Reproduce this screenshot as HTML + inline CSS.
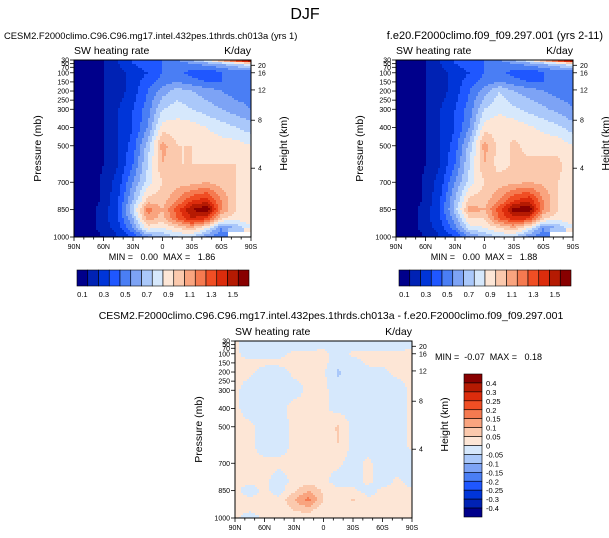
<!DOCTYPE html>
<html><head><meta charset="utf-8"><style>
html,body{margin:0;padding:0;background:#fff;}
svg{display:block;font-family:"Liberation Sans",sans-serif;}
</style></head><body>
<svg id="root" width="609" height="538" viewBox="0 0 609 538">
<rect width="609" height="538" fill="#fff"/>
<text x="305" y="19" font-size="16" text-anchor="middle">DJF</text>
<text x="4" y="39" font-size="9.4">CESM2.F2000climo.C96.C96.mg17.intel.432pes.1thrds.ch013a (yrs 1)</text>
<text x="603" y="39" font-size="11" text-anchor="end">f.e20.F2000climo.f09_f09.297.001 (yrs 2-11)</text>
<text x="331" y="319" font-size="10.5" text-anchor="middle">CESM2.F2000climo.C96.C96.mg17.intel.432pes.1thrds.ch013a - f.e20.F2000climo.f09_f09.297.001</text>
<g id="g1"></g><g id="g2"></g><g id="g3"></g>
</svg>
<script>
const lats=["90N","75N","60N","45N","30N","15N","0","15S","30S","45S","60S","75S","90S"];
const pres=[30,50,100,150,200,300,400,500,600,700,800,850,900,950,1000];
const ctlVals=[
[0.05,0.05,0.1,0.2,0.3,0.35,0.4,0.5,0.6,0.8,1.1,1.4,1.7],
[0.05,0.05,0.1,0.2,0.3,0.35,0.4,0.45,0.5,0.55,0.6,0.7,0.8],
[0.05,0.05,0.1,0.15,0.25,0.3,0.4,0.45,0.35,0.3,0.4,0.4,0.4],
[0.05,0.05,0.1,0.15,0.25,0.35,0.45,0.5,0.45,0.4,0.4,0.4,0.4],
[0.05,0.05,0.1,0.15,0.25,0.4,0.55,0.65,0.6,0.55,0.5,0.45,0.45],
[0.05,0.05,0.1,0.2,0.3,0.45,0.7,0.75,0.7,0.65,0.6,0.55,0.5],
[0.05,0.05,0.1,0.2,0.3,0.5,0.85,0.85,0.85,0.8,0.75,0.7,0.65],
[0.05,0.05,0.1,0.2,0.35,0.65,1.05,0.9,0.9,0.85,0.85,0.85,0.8],
[0.05,0.05,0.1,0.2,0.4,0.7,1.0,0.9,0.9,0.9,0.9,0.9,0.85],
[0.05,0.05,0.12,0.25,0.5,0.75,0.9,0.95,0.95,1.0,0.95,0.9,0.85],
[0.05,0.05,0.12,0.3,0.6,0.95,0.95,1.1,1.3,1.35,1.1,0.9,0.85],
[0.05,0.05,0.15,0.3,0.7,1.15,1.0,1.25,1.5,1.6,1.1,0.9,0.85],
[0.05,0.05,0.15,0.3,0.6,1.05,0.95,1.2,1.4,1.3,0.9,0.85,0.85],
[0.05,0.05,0.15,0.25,0.5,0.85,0.8,0.9,1.0,0.8,0.5,0.6,0.8],
[0.05,0.05,0.1,0.2,0.3,0.5,0.6,0.7,0.7,0.5,0.4,null,null]];
const obsVals=[
[0.05,0.05,0.1,0.2,0.3,0.35,0.4,0.5,0.6,0.8,1.1,1.4,1.7],
[0.05,0.05,0.1,0.2,0.3,0.35,0.4,0.45,0.5,0.55,0.6,0.7,0.8],
[0.05,0.05,0.1,0.15,0.25,0.3,0.4,0.45,0.35,0.3,0.4,0.4,0.4],
[0.05,0.05,0.1,0.15,0.25,0.35,0.45,0.5,0.45,0.4,0.4,0.4,0.4],
[0.05,0.05,0.1,0.15,0.25,0.4,0.55,0.7,0.6,0.55,0.5,0.45,0.45],
[0.05,0.05,0.1,0.2,0.3,0.45,0.7,0.78,0.72,0.67,0.62,0.57,0.5],
[0.05,0.05,0.1,0.2,0.3,0.5,0.85,0.87,0.87,0.82,0.77,0.72,0.65],
[0.05,0.05,0.1,0.2,0.35,0.65,1.05,0.85,0.92,0.87,0.87,0.87,0.8],
[0.05,0.05,0.1,0.2,0.4,0.7,1.0,0.85,0.92,0.92,0.92,0.92,0.85],
[0.05,0.05,0.12,0.25,0.5,0.75,0.9,0.95,0.97,1.0,0.97,0.9,0.85],
[0.05,0.05,0.12,0.3,0.6,0.95,0.95,1.1,1.3,1.38,1.1,0.9,0.85],
[0.05,0.05,0.15,0.3,0.65,1.05,1.0,1.25,1.55,1.6,1.1,0.9,0.85],
[0.05,0.05,0.15,0.3,0.55,0.9,0.9,1.2,1.35,1.3,0.9,0.85,0.85],
[0.05,0.05,0.15,0.25,0.45,0.75,0.8,0.9,1.0,0.8,0.5,0.6,0.8],
[0.05,0.05,0.1,0.2,0.3,0.5,0.6,0.7,0.7,0.5,0.4,null,null]];
const diffVals=[
[0.01,-0.02,-0.02,-0.02,-0.02,-0.02,-0.02,-0.02,-0.02,-0.02,-0.02,-0.02,-0.01],
[0.01,-0.02,-0.02,-0.02,-0.02,-0.02,-0.01,-0.02,-0.02,-0.02,-0.02,-0.02,-0.01],
[0.01,-0.02,-0.02,-0.01,0.01,0.01,0.01,-0.02,0.01,0.01,0.01,0.01,0.01],
[0.01,0.01,0.01,0.01,0.01,0.01,0.01,-0.02,-0.02,0.01,0.01,0.01,0.01],
[0.01,0.01,-0.02,-0.02,0.01,0.01,0.01,-0.06,-0.02,-0.02,-0.01,0.01,0.01],
[0.01,-0.02,-0.02,-0.02,-0.02,0.01,0.01,-0.02,-0.02,-0.02,-0.02,-0.02,0.01],
[0.01,-0.02,-0.02,-0.02,0.02,0.01,0.01,-0.02,-0.02,-0.02,-0.02,-0.02,0.01],
[0.01,0.01,-0.02,-0.02,0.01,0.01,0.01,0.06,-0.02,-0.02,-0.02,-0.02,0.01],
[0.01,0.01,-0.02,-0.02,0.01,0.01,0.01,0.05,-0.02,-0.02,-0.02,-0.02,0.01],
[0.01,0.01,0.01,0.01,0.01,0.01,0.01,0.01,-0.02,0.01,-0.02,-0.02,-0.02],
[0.01,0.01,0.01,-0.02,0.01,0.03,0.01,-0.02,-0.02,0.01,-0.02,0.01,-0.02],
[0.01,-0.02,0.01,-0.02,0.04,0.1,0.04,0.01,0.01,-0.02,0.01,0.01,0.01],
[0.01,0.01,0.01,0.01,0.1,0.17,0.05,0.01,0.06,0.01,0.01,0.01,0.01],
[0.01,0.01,0.01,0.01,0.06,0.08,0.01,0.01,0.01,0.01,0.01,0.01,0.01],
[0.01,-0.02,0.01,0.01,0.01,0.01,0.01,0.01,0.01,0.01,0.01,0.01,0.01]];
const absLevels=[0.1,0.2,0.3,0.4,0.5,0.6,0.7,0.8,0.9,1.0,1.1,1.2,1.3,1.4,1.5];
const diffLevels=[-0.4,-0.3,-0.25,-0.2,-0.15,-0.1,-0.05,0,0.05,0.1,0.15,0.2,0.25,0.3,0.4];
const absBarLabels=["0.1","0.3","0.5","0.7","0.9","1.1","1.3","1.5"];
const diffBarLabels=["0.4","0.3","0.25","0.2","0.15","0.1","0.05","0","-0.05","-0.1","-0.15","-0.2","-0.25","-0.3","-0.4"];
const pTicks=[30,50,70,100,150,200,250,300,400,500,700,850,1000];
const kmTicks=[4,8,12,16,20];
const kmPres=[623,360,194,100,59];
const minmax=[["0.00","1.86"],["0.00","1.88"],["-0.07","0.18"]];
const palette=["#00008b","#0022b4","#0035d8","#1f57ff","#4a7ef4","#7da3f5","#aac8fa","#d6e8fc","#fde6d6","#fbc9ad","#f9a47f","#f57a50","#f04e24","#dc2c0c","#b51a02","#880000"];
const NS="http://www.w3.org/2000/svg";
function mk(tag,attrs,parent){const e=document.createElementNS(NS,tag);for(const k in attrs)e.setAttribute(k,attrs[k]);parent.appendChild(e);return e;}
function colorFor(v,levels){if(v===null)return "#ffffff";let i=0;while(i<levels.length&&v>=levels[i])i++;return palette[i];}
function sample(grid,fx,p){
  let r=0;while(r<pres.length-2&&p>pres[r+1])r++;
  const ty=Math.max(0,Math.min(1,(p-pres[r])/(pres[r+1]-pres[r])));
  let c=Math.min(Math.floor(fx),lats.length-2);const tx=fx-c;
  const a=grid[r][c],b=grid[r][c+1],d=grid[r+1][c],e=grid[r+1][c+1];
  if(a===null||b===null||d===null||e===null){
    const near=(ty<0.5?(tx<0.5?a:b):(tx<0.5?d:e));return near===null?null:near;}
  return (a*(1-tx)+b*tx)*(1-ty)+(d*(1-tx)+e*tx)*ty;
}
function panel(g,x0,y0,w,h,grid,levels,idx,mmX,mmY){
  const sy=p=>y0+(p-30)/970*h;
  const field=mk('g',{},g);
  
  
  const cs=2;
  for(let yy=0;yy<h;yy+=cs){for(let xx=0;xx<w;xx+=cs){
    const fx=(xx+cs/2)/w*(lats.length-1);const p=30+(yy+cs/2)/h*970;
    const v=sample(grid,Math.min(fx,12),p);
    const r=mk('rect',{x:x0+xx,y:y0+yy,width:Math.min(cs,w-xx)+0.3,height:Math.min(cs,h-yy)+0.3,fill:colorFor(v,levels)},field);
    
    
  }}
  const fr=mk('rect',{x:x0,y:y0,width:w,height:h,fill:'none',stroke:'#000','stroke-width':1},g);
  
  const t1=mk('text',{x:x0,y:y0-6,'font-size':10.5},g);t1.textContent='SW heating rate';
  
  const t2=mk('text',{x:x0+w,y:y0-6,'font-size':10.5,'text-anchor':'end'},g);t2.textContent='K/day';
  
  pTicks.forEach(p=>{const y=sy(p);
    mk('line',{x1:x0-4,x2:x0,y1:y,y2:y,stroke:'#000','stroke-width':0.8},g);
    const t=mk('text',{x:x0-5,y:y+2.5,'font-size':7,'text-anchor':'end'},g);t.textContent=p;
    });
  kmTicks.forEach((k,i)=>{const y=sy(kmPres[i]);
    mk('line',{x1:x0+w,x2:x0+w+4,y1:y,y2:y,stroke:'#000','stroke-width':0.8},g);
    const t=mk('text',{x:x0+w+7,y:y+2.5,'font-size':7},g);t.textContent=k;
    });
  for(let d=0;d<=18;d++){const x=x0+d/18*w;const maj=d%3===0;
    mk('line',{x1:x,x2:x,y1:y0+h,y2:y0+h+(maj?4:2.5),stroke:'#000','stroke-width':0.8},g);
    if(maj){const lab=["90N","60N","30N","0","30S","60S","90S"][d/3];
      const t=mk('text',{x:x,y:y0+h+12,'font-size':7,'text-anchor':'middle'},g);t.textContent=lab;
      }}
  const yt=mk('text',{x:0,y:0,'font-size':10.5,'text-anchor':'middle',transform:`translate(${x0-33},${y0+h/2}) rotate(-90)`},g);yt.textContent='Pressure (mb)';
  
  const ht=mk('text',{x:0,y:0,'font-size':10.5,'text-anchor':'middle',transform:`translate(${x0+w+36},${y0+h/2-5}) rotate(-90)`},g);ht.textContent='Height (km)';
  
  const mm=mk('text',{x:mmX,y:mmY,'font-size':9,'text-anchor':idx===3?'start':'middle','xml:space':'preserve'},g);
  mm.textContent=`MIN = ${minmax[idx-1][0].padStart(6,' ')}  MAX = ${minmax[idx-1][1].padStart(6,' ')}`;
  mm.style.whiteSpace='pre';
  
}
function hbar(g,x0,y0,w,h){
  const bw=w/16;
  palette.forEach((c,i)=>{const r=mk('rect',{x:x0+i*bw,y:y0,width:bw,height:h,fill:c,stroke:'#000','stroke-width':0.6},g);
    });
  absBarLabels.forEach((l,i)=>{const t=mk('text',{x:x0+(2*i+0.5)*bw,y:y0+h+11,'font-size':7.5,'text-anchor':'middle'},g);t.textContent=l;
    });
}
function vbar(g,x0,y0,w,h){
  const bh=h/16;
  palette.slice().reverse().forEach((c,i)=>{const r=mk('rect',{x:x0,y:y0+i*bh,width:w,height:bh,fill:c,stroke:'#000','stroke-width':0.6},g);
    });
  diffBarLabels.forEach((l,i)=>{const t=mk('text',{x:x0+w+4,y:y0+(i+1)*bh+3,'font-size':7.5},g);t.textContent=l;
    });
}
const g1=document.getElementById('g1'),g2=document.getElementById('g2'),g3=document.getElementById('g3');



panel(g1,74,60,177,177,ctlVals,absLevels,1,162,260);
hbar(g1,77,270,172,16);
panel(g2,396,60,177,177,obsVals,absLevels,2,484,260);
hbar(g2,399,270,172,16);
panel(g3,235,341,177,177,diffVals,diffLevels,3,435,360);
vbar(g3,464,374,18,143);
</script>
</body></html>
